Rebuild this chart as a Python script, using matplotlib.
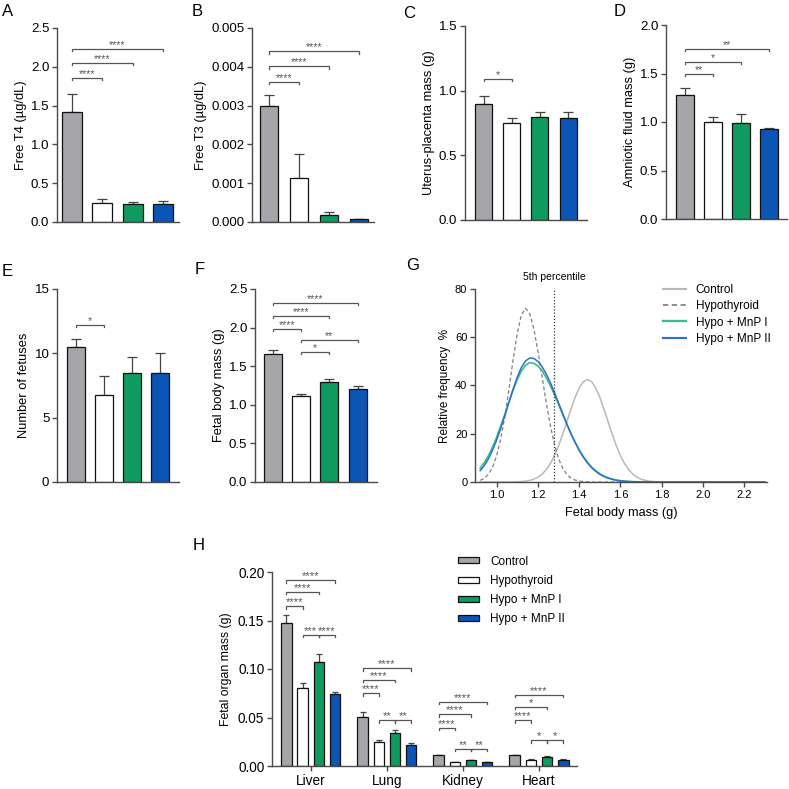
import numpy as np
import matplotlib
matplotlib.use('Agg')
import matplotlib.pyplot as plt
from matplotlib.ticker import FormatStrFormatter

plt.rcParams['font.family'] = ['Liberation Sans', 'DejaVu Sans']

# groups and colours
groups = ['Control', 'Hypothyroid', 'Hypo + MnP I', 'Hypo + MnP II']
bar_colors = ['#a5a5aa', '#ffffff', '#0f9a60', '#0b55b5']
line_colors = ['#b9b9b9', '#808080', '#3dbb8c', '#2f6fc8']

# A - free T4
t4_mean = [1.42, 0.25, 0.23, 0.23]
t4_sem = [0.23, 0.04, 0.025, 0.035]
t4_sig = [(0, 1, 1.855, '****'), (0, 2, 2.05, '****'), (0, 3, 2.23, '****')]

# B - free T3
t3_mean = [0.0030, 0.00114, 0.00017, 0.00008]
t3_sem = [0.00027, 0.0006, 0.0001, 0.00001]
t3_sig = [(0, 1, 0.00362, '****'), (0, 2, 0.00401, '****'), (0, 3, 0.0044, '****')]

# C - uterus-placenta mass
up_mean = [0.90, 0.75, 0.795, 0.785]
up_sem = [0.055, 0.035, 0.037, 0.047]
up_sig = [(0, 1, 1.09, '*')]

# D - amniotic fluid mass
af_mean = [1.28, 1.0, 0.99, 0.925]
af_sem = [0.07, 0.05, 0.09, 0.017]
af_sig = [(0, 1, 1.495, '**'), (0, 2, 1.62, '*'), (0, 3, 1.756, '**')]

# E - number of fetuses
nf_mean = [10.5, 6.75, 8.5, 8.5]
nf_sem = [0.63, 1.47, 1.24, 1.5]
nf_sig = [(0, 1, 12.24, '*')]

# F - fetal body mass
fb_mean = [1.655, 1.12, 1.29, 1.21]
fb_sem = [0.055, 0.02, 0.045, 0.03]
fb_sig = [(1, 2, 1.69, '*'), (1, 3, 1.84, '**'), (0, 1, 1.983, '****'),
          (0, 2, 2.155, '****'), (0, 3, 2.323, '****')]

# G - fitted frequency distributions of fetal body mass
fit_x = [0.92, 0.94, 0.96, 0.98, 1.00, 1.02, 1.04, 1.06, 1.08, 1.10, 1.12, 1.14,
         1.16, 1.18, 1.20, 1.22, 1.24, 1.26, 1.28, 1.30, 1.32, 1.34, 1.36, 1.38,
         1.40, 1.42, 1.44, 1.46, 1.48, 1.50, 1.52, 1.54, 1.56, 1.58, 1.60, 1.62,
         1.64, 1.66, 1.68, 1.70, 1.72, 1.74, 1.76, 1.78, 1.80, 2.30]
fit_control = [0, 0, 0, 0, 0, 0, 0, 0.02, 0.04, 0.09, 0.18, 0.36,
               0.66, 1.17, 2.0, 3.25, 5.07, 7.6, 10.9, 15.0, 19.8, 25.0, 30.2, 35.1,
               39.0, 41.6, 42.5, 41.6, 39.0, 35.1, 30.2, 25.0, 19.8, 15.0, 10.9, 7.6,
               5.07, 3.25, 2.0, 1.17, 0.66, 0.36, 0.18, 0.09, 0.04, 0]
fit_hypo = [0.7, 1.5, 3.2, 6.1, 10.9, 18.0, 27.4, 38.8, 50.9, 61.7, 69.3, 72.0,
            69.8, 63.5, 54.3, 43.7, 33.0, 23.4, 15.6, 9.7, 5.7, 3.2, 1.6, 0.8,
            0.4, 0.2, 0.1, 0, 0, 0, 0, 0, 0, 0, 0, 0,
            0, 0, 0, 0, 0, 0, 0, 0, 0, 0]
fit_mnp1 = [5.7, 8.0, 10.9, 14.5, 18.6, 23.3, 28.2, 33.3, 38.2, 42.5, 46.0, 48.4,
            49.5, 49.2, 48.1, 46.1, 43.3, 39.9, 36.1, 32.1, 28.0, 23.9, 20.0, 16.5,
            13.3, 10.5, 8.2, 6.2, 4.7, 3.4, 2.5, 1.75, 1.2, 0.82, 0.55, 0.36,
            0.23, 0.15, 0.09, 0.05, 0.03, 0, 0, 0, 0, 0]
fit_mnp2 = [4.7, 6.8, 9.6, 13.2, 17.4, 22.3, 27.6, 33.2, 38.6, 43.5, 47.5, 50.2,
            51.4, 51.2, 50.0, 47.8, 44.8, 41.2, 37.1, 32.8, 28.4, 24.1, 20.1, 16.4,
            13.1, 10.3, 7.9, 5.95, 4.4, 3.2, 2.26, 1.57, 1.08, 0.72, 0.47, 0.3,
            0.19, 0.12, 0.07, 0.04, 0.02, 0, 0, 0, 0, 0]
p5_cutoff = 1.28

# H - fetal organ mass
organs = ['Liver', 'Lung', 'Kidney', 'Heart']
org_control = [0.1472, 0.0507, 0.0110, 0.0110]
org_hypo = [0.0807, 0.0248, 0.0038, 0.0066]
org_mnp1 = [0.1076, 0.0345, 0.0059, 0.0090]
org_mnp2 = [0.0738, 0.0221, 0.0041, 0.0066]
org_control_sem = [0.0087, 0.0045, 0.0007, 0.0007]
org_hypo_sem = [0.0048, 0.0018, 0.0006, 0.0006]
org_mnp1_sem = [0.0076, 0.0031, 0.0007, 0.0010]
org_mnp2_sem = [0.0024, 0.0013, 0.0004, 0.0006]
org_sig = [
    [(0, 1, 0.1645, '****'), (0, 2, 0.1793, '****'), (0, 3, 0.1914, '****'),
     (1, 2, 0.1352, '***'), (2, 3, 0.1352, '****')],
    [(0, 1, 0.0748, '****'), (0, 2, 0.0886, '****'), (0, 3, 0.1007, '****'),
     (1, 2, 0.0472, '**'), (2, 3, 0.0472, '**')],
    [(0, 1, 0.0393, '****'), (0, 2, 0.0531, '****'), (0, 3, 0.0659, '****'),
     (1, 2, 0.0179, '**'), (2, 3, 0.0179, '**')],
    [(0, 1, 0.0472, '****'), (0, 2, 0.0610, '*'), (0, 3, 0.0734, '****'),
     (1, 2, 0.0266, '*'), (2, 3, 0.0266, '*')],
]

W = 789
fig = plt.figure(figsize=(7.89, 7.89), dpi=100)
AX_COL = '#4a4a4a'


def px_axes(x0, y0, x1, y1):
    return fig.add_axes([x0 / W, 1 - y1 / W, (x1 - x0) / W, (y1 - y0) / W])


def style(ax, size):
    for s in ['top', 'right']:
        ax.spines[s].set_visible(False)
    for s in ['left', 'bottom']:
        ax.spines[s].set_color(AX_COL)
        ax.spines[s].set_linewidth(1.0)
    ax.tick_params(direction='out', length=3.5, width=1.0, color=AX_COL,
                   labelsize=size, pad=2)


def bracket(ax, x1, x2, y, text, h, fs=7.5):
    ax.plot([x1, x1, x2, x2], [y - h, y, y, y - h], color='#555555', lw=0.9,
            clip_on=False, solid_joinstyle='miter')
    ax.text((x1 + x2) / 2, y + h * 0.4, text, ha='center', va='baseline',
            fontsize=fs, color='#555555')


def bar_panel(box, mean, sem, sig, ymax, ystep, fmt, ylabel, xlim, width):
    ax = px_axes(*box)
    style(ax, 9.5)
    x = np.arange(4)
    ax.errorbar(x, mean, yerr=[np.zeros(4), sem], fmt='none', ecolor='#444444',
                elinewidth=0.9, capsize=3.3, capthick=0.9, zorder=1)
    ax.bar(x, mean, width=width, color=bar_colors, edgecolor='#111111',
           linewidth=0.9, zorder=2)
    for i, j, y, t in sig:
        bracket(ax, i, j, y, t, ymax * 0.012)
    ax.set_xlim(*xlim)
    ax.set_ylim(0, ymax)
    ax.set_yticks(np.arange(0, ymax + ystep / 2, ystep))
    ax.yaxis.set_major_formatter(FormatStrFormatter(fmt))
    ax.set_xticks([])
    ax.set_ylabel(ylabel, fontsize=9.3, labelpad=3)
    return ax


bar_panel((57, 28, 179, 222), t4_mean, t4_sem, t4_sig, 2.5, 0.5, '%.1f',
          'Free T4 (µg/dL)', (-0.5, 3.53), 0.66)
bar_panel((252, 28, 374, 222), t3_mean, t3_sem, t3_sig, 0.005, 0.001, '%.3f',
          'Free T3 (µg/dL)', (-0.57, 3.5), 0.6)
bar_panel((465, 26, 587, 220), up_mean, up_sem, up_sig, 1.5, 0.5, '%.1f',
          'Uterus-placenta mass (g)', (-0.66, 3.67), 0.6)
bar_panel((666, 25, 787, 219), af_mean, af_sem, af_sig, 2.0, 0.5, '%.1f',
          'Amniotic fluid mass (g)', (-0.68, 3.64), 0.64)
bar_panel((57, 289, 179, 482), nf_mean, nf_sem, nf_sig, 15, 5, '%d',
          'Number of fetuses', (-0.66, 3.67), 0.64)
bar_panel((255, 289, 377, 482), fb_mean, fb_sem, fb_sig, 2.5, 0.5, '%.1f',
          'Fetal body mass (g)', (-0.64, 3.69), 0.64)

# G
axg = px_axes(475, 289, 767, 482)
style(axg, 8)
axg.plot(fit_x, fit_control, color=line_colors[0], lw=1.1, label=groups[0])
axg.plot(fit_x, fit_hypo, color=line_colors[1], lw=0.9, ls=(0, (3, 2)), label=groups[1])
axg.plot(fit_x, fit_mnp1, color=line_colors[2], lw=1.2, label=groups[2])
axg.plot(fit_x, fit_mnp2, color=line_colors[3], lw=1.1, label=groups[3])
axg.axvline(p5_cutoff, color='#333333', lw=0.9, ls=(0, (1, 1.5)))
axg.text(p5_cutoff, 83, '5th percentile', ha='center', va='bottom', fontsize=7.5)
axg.set_xlim(0.895, 2.31)
axg.set_ylim(0, 80)
axg.set_xticks([1.0, 1.2, 1.4, 1.6, 1.8, 2.0, 2.2])
axg.xaxis.set_major_formatter(FormatStrFormatter('%.1f'))
axg.set_yticks([0, 20, 40, 60, 80])
axg.set_xlabel('Fetal body mass (g)', fontsize=9.2, labelpad=5)
axg.set_ylabel('Relative frequency  %', fontsize=8.5, labelpad=3)
leg = axg.legend(loc='upper left', bbox_to_anchor=(0.645, 1.024), frameon=False,
                 fontsize=8.5, handlelength=1.9, handletextpad=0.85,
                 labelspacing=0.35, borderpad=0, borderaxespad=0)
for h in leg.get_lines():
    h.set_linewidth(h.get_linewidth() * 1.4)

# H
axh = px_axes(272, 572, 577, 766)
style(axh, 9.8)
offs = np.array([-1.5, -0.5, 0.5, 1.5]) * 0.213
bw = 0.138
cx = np.arange(4)
series = [(org_control, org_control_sem), (org_hypo, org_hypo_sem),
          (org_mnp1, org_mnp1_sem), (org_mnp2, org_mnp2_sem)]
for k, (vals, err) in enumerate(series):
    axh.errorbar(cx + offs[k], vals, yerr=[np.zeros(4), err], fmt='none',
                 ecolor='#444444', elinewidth=0.9, capsize=2.2, capthick=0.9, zorder=1)
    axh.bar(cx + offs[k], vals, width=bw, color=bar_colors[k], edgecolor='#111111',
            linewidth=0.9, zorder=2, label=groups[k])
for c, sigs in enumerate(org_sig):
    for i, j, y, t in sigs:
        bracket(axh, c + offs[i], c + offs[j], y, t, 0.2 * 0.012, fs=8)
axh.set_xlim(-0.51, 3.5)
axh.set_ylim(0, 0.2)
axh.set_yticks([0, 0.05, 0.10, 0.15, 0.20])
axh.yaxis.set_major_formatter(FormatStrFormatter('%.2f'))
axh.set_xticks(cx)
axh.set_xticklabels(organs)
axh.set_ylabel('Fetal organ mass (g)', fontsize=8.8, labelpad=4)
axh.legend(loc='upper left', bbox_to_anchor=(0.61, 1.085), frameon=False,
           fontsize=8.5, handlelength=1.8, handleheight=0.42, handletextpad=0.9,
           labelspacing=0.62, borderpad=0, borderaxespad=0)

# panel letters
for t, x, y in [('A', 2, 4), ('B', 192, 4), ('C', 403, 6), ('D', 614, 4),
                ('E', 2, 264), ('F', 195, 262), ('G', 406, 258), ('H', 193, 538)]:
    fig.text(x / W, 1 - y / W, t, fontsize=12, va='top', ha='left')

fig.savefig('out.png', dpi=100)
